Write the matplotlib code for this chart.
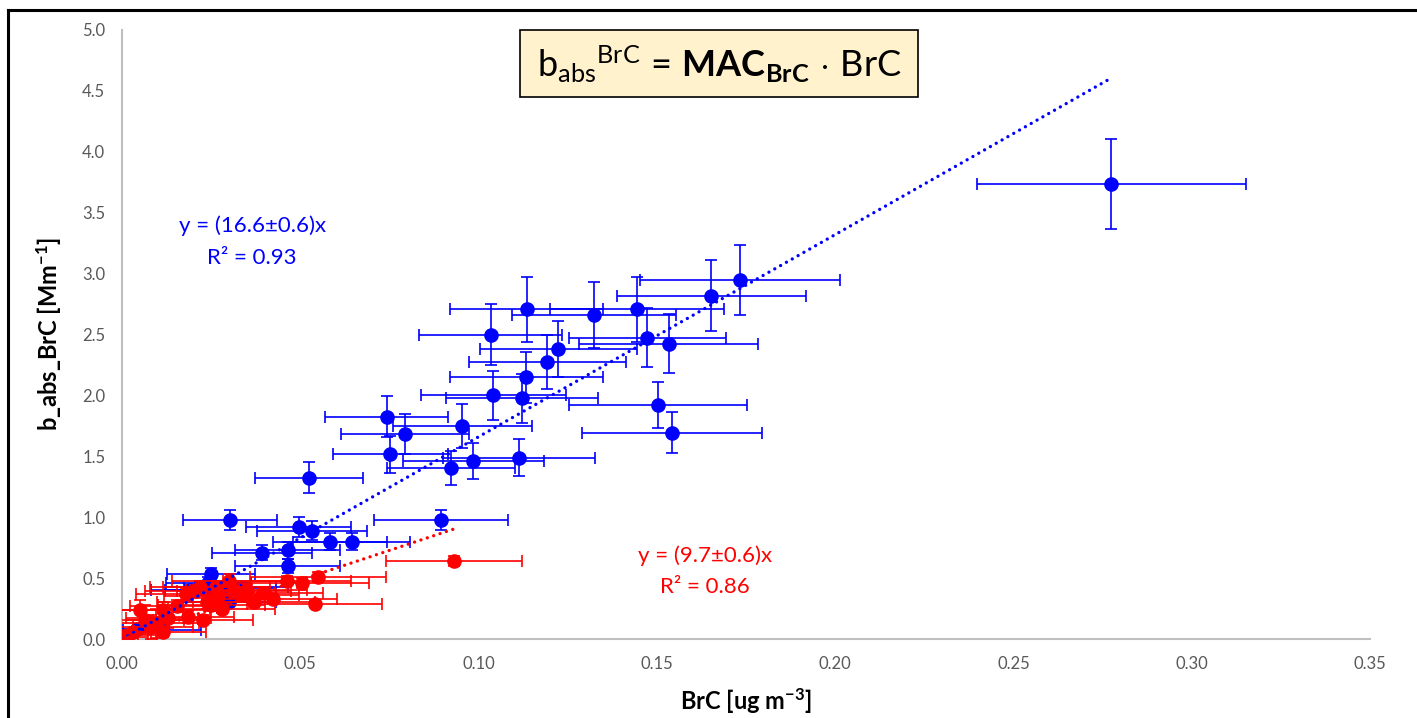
import numpy as np
import matplotlib.pyplot as plt
from matplotlib.lines import Line2D
from matplotlib.patches import Rectangle

plt.rcParams['font.family'] = ['Lato', 'DejaVu Sans']
plt.rcParams['mathtext.fontset'] = 'custom'
plt.rcParams['mathtext.rm'] = 'Lato'
plt.rcParams['mathtext.bf'] = 'Lato:bold'
plt.rcParams['mathtext.it'] = 'Lato:italic'

# blue series: BrC [ug m-3] vs b_abs_BrC [Mm-1], with errors
blue_x = [0.2775, 0.1733, 0.1653, 0.1444, 0.1135, 0.1324, 0.1473, 0.1533, 0.1034, 0.1223,
          0.1193, 0.1134, 0.1041, 0.1122, 0.1503, 0.1542, 0.0742, 0.0793, 0.0954, 0.0753,
          0.0985, 0.0922, 0.1114, 0.0525, 0.0894, 0.0303, 0.0495, 0.0533, 0.0583, 0.0644,
          0.0393, 0.0465, 0.0465, 0.0250, 0.0242, 0.0191, 0.0241, 0.0303, 0.0336, 0.0301,
          0.0041, 0.0112]
blue_y = [3.735, 2.947, 2.82, 2.706, 2.706, 2.66, 2.474, 2.425, 2.50, 2.38,
          2.275, 2.148, 2.00, 1.976, 1.92, 1.694, 1.825, 1.683, 1.751, 1.516,
          1.461, 1.401, 1.49, 1.325, 0.977, 0.977, 0.92, 0.89, 0.80, 0.80,
          0.71, 0.73, 0.60, 0.531, 0.462, 0.402, 0.402, 0.419, 0.429, 0.30,
          0.08, 0.074]
blue_xerr = [0.0378, 0.028, 0.0265, 0.0243, 0.0215, 0.0231, 0.022, 0.0252, 0.0201, 0.022,
             0.022, 0.0214, 0.0203, 0.0212, 0.025, 0.0253, 0.0173, 0.018, 0.0195, 0.016,
             0.0198, 0.018, 0.0213, 0.0151, 0.0188, 0.0131, 0.0148, 0.0153, 0.0159, 0.0165,
             0.014, 0.0147, 0.0147, 0.0124, 0.012, 0.011, 0.012, 0.013, 0.013, 0.013,
             0.009, 0.011]
blue_yerr = [0.37, 0.29, 0.29, 0.27, 0.27, 0.27, 0.24, 0.24, 0.25, 0.23,
             0.22, 0.21, 0.20, 0.20, 0.19, 0.17, 0.17, 0.165, 0.18, 0.15,
             0.15, 0.14, 0.15, 0.13, 0.08, 0.08, 0.08, 0.08, 0.07, 0.07,
             0.065, 0.07, 0.06, 0.05, 0.045, 0.04, 0.04, 0.04, 0.04, 0.03,
             0.02, 0.02]

# red series
red_x = [0.0004, 0.0012, 0.0018, 0.003, 0.005, 0.0065, 0.008, 0.0095, 0.0116, 0.013,
         0.0116, 0.0153, 0.018, 0.0185, 0.0205, 0.0219, 0.0228, 0.0238, 0.025, 0.0265,
         0.0268, 0.028, 0.030, 0.0315, 0.0335, 0.035, 0.037, 0.0395, 0.0423, 0.0462,
         0.0504, 0.055, 0.054, 0.0931]
red_y = [0.01, 0.02, 0.03, 0.06, 0.24, 0.16, 0.10, 0.13, 0.24, 0.17,
         0.06, 0.27, 0.37, 0.18, 0.39, 0.43, 0.16, 0.30, 0.28, 0.43,
         0.35, 0.25, 0.48, 0.39, 0.36, 0.40, 0.30, 0.38, 0.33, 0.48,
         0.46, 0.51, 0.29, 0.64]
red_xerr = [0.004, 0.006, 0.008, 0.010, 0.012, 0.011, 0.012, 0.012, 0.013, 0.012,
            0.012, 0.013, 0.014, 0.013, 0.014, 0.014, 0.014, 0.014, 0.015, 0.015,
            0.015, 0.015, 0.016, 0.016, 0.016, 0.017, 0.017, 0.017, 0.018, 0.018,
            0.019, 0.019, 0.019, 0.019]
red_yerr = [0.02, 0.03, 0.04, 0.10, 0.08, 0.12, 0.10, 0.12, 0.06, 0.08,
            0.08, 0.05, 0.05, 0.05, 0.05, 0.05, 0.04, 0.05, 0.05, 0.05,
            0.05, 0.04, 0.05, 0.05, 0.05, 0.05, 0.04, 0.05, 0.04, 0.04,
            0.04, 0.04, 0.03, 0.04]

blue_slope = 16.6
red_slope = 9.7

BLUE = '#0000FF'
RED = '#FF0000'

fig = plt.figure(figsize=(14.17, 7.18), dpi=100)
ax = fig.add_axes([122 / 1417, 1 - 639 / 718, (1370 - 122) / 1417, (639 - 30) / 718])

eb = dict(fmt='o', ms=9.5, elinewidth=1.2, capsize=4.5, capthick=1.2)
ax.errorbar(blue_x, blue_y, xerr=blue_xerr, yerr=blue_yerr, color=BLUE, ecolor=BLUE,
            zorder=3, **eb)
ax.errorbar(red_x, red_y, xerr=red_xerr, yerr=red_yerr, color=RED, ecolor=RED,
            zorder=4, **eb)

# linear fits through origin, drawn up to the largest x of each series
dots = (0, (0.01, 2.0))
bx = np.array([0, max(blue_x)])
rx = np.array([0, max(red_x)])
ax.plot(bx, blue_slope * bx, linestyle=dots, dash_capstyle='round',
        color=BLUE, lw=2.4, zorder=5)
ax.plot(rx, red_slope * rx, linestyle=dots, dash_capstyle='round',
        color=RED, lw=2.4, zorder=5)

ax.set_xlim(0, 0.35)
ax.set_ylim(0, 5.0)
ax.set_xticks(np.arange(0, 0.351, 0.05))
ax.set_yticks(np.arange(0, 5.01, 0.5))
ax.set_xticklabels([f'{v:.2f}' for v in np.arange(0, 0.351, 0.05)])
ax.set_yticklabels([f'{v:.1f}' for v in np.arange(0, 5.01, 0.5)])
ax.tick_params(length=0, labelsize=12, labelcolor='#595959', pad=12)
for s in ['top', 'right']:
    ax.spines[s].set_visible(False)
for s in ['left', 'bottom']:
    ax.spines[s].set_color('#BFBFBF')
    ax.spines[s].set_linewidth(1.5)

ax.set_xlabel(r'BrC [ug m$^{\mathbf{-3}}$]', fontsize=17, fontweight='bold', labelpad=10)
ax.set_ylabel(r'b_abs_BrC [Mm$^{\mathbf{-1}}$]', fontsize=17, fontweight='bold', labelpad=14)

# fit equations
ax.text(0.0365, 3.39, 'y = (16.6±0.6)x', color=BLUE, fontsize=16, ha='center', va='center')
ax.text(0.0365, 3.13, 'R² = 0.93', color=BLUE, fontsize=16, ha='center', va='center')
ax.text(0.1635, 0.685, 'y = (9.7±0.6)x', color=RED, fontsize=16, ha='center', va='center')
ax.text(0.1635, 0.425, 'R² = 0.86', color=RED, fontsize=16, ha='center', va='center')

# equation box
fig.add_artist(Rectangle((520 / 1417, 1 - 97 / 718), 398 / 1417, 67 / 718,
                         transform=fig.transFigure, facecolor='#FFF2CC',
                         edgecolor='black', lw=1.2, zorder=6))
fig.text(719 / 1417, 1 - 64 / 718,
         r'$\mathrm{b}_{\mathrm{abs}}{}^{\mathrm{BrC}}\,=\,\mathbf{MAC}_{\mathbf{BrC}}\,\cdot\,\mathrm{BrC}$',
         fontsize=26, ha='center', va='center', zorder=7)

# outer frame
fig.add_artist(Line2D([8 / 1417, 1], [1 - 10 / 718] * 2, transform=fig.transFigure,
                      color='black', lw=2.2))
fig.add_artist(Line2D([8 / 1417] * 2, [0, 1 - 10 / 718], transform=fig.transFigure,
                      color='black', lw=2.2))

fig.savefig('out.png', dpi=100)
